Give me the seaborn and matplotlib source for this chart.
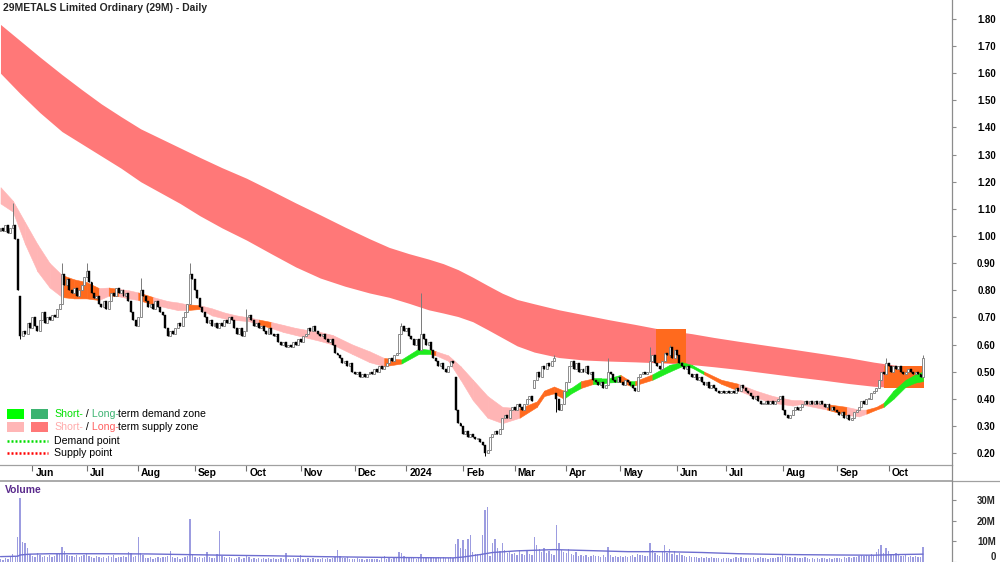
import numpy as np
import pandas as pd
import matplotlib
matplotlib.use("Agg")
import matplotlib.pyplot as plt
import matplotlib.transforms as mtransforms
from matplotlib.lines import Line2D
from matplotlib.patches import Rectangle
import seaborn as sns

sns.set_theme(style="white")
plt.rcParams["font.family"] = ["Liberation Sans", "DejaVu Sans"]

TITLE = "29METALS Limited Ordinary (29M) - Daily"
START_DATE = "2023-05-15"

# ---------------- daily closes ----------------
close = [
    1.03, 1.02, 1.04, 1.01, 1.03, 1.04, 0.99,
    0.80, 0.63,
    0.65, 0.64, 0.68, 0.66, 0.70, 0.67, 0.65, 0.69, 0.72, 0.68, 0.70, 0.69, 0.71, 0.70, 0.73, 0.75,
    0.86,
    0.82, 0.84, 0.80, 0.79, 0.81, 0.78, 0.80, 0.82,
    0.85, 0.87, 0.83,
    0.79, 0.77, 0.78, 0.75, 0.74, 0.76, 0.73,
    0.76, 0.79, 0.78, 0.81, 0.79, 0.80, 0.78, 0.79, 0.76,
    0.72, 0.69, 0.67, 0.70,
    0.80, 0.78,
    0.76, 0.74, 0.75, 0.73, 0.76, 0.74, 0.72, 0.71,
    0.66, 0.63, 0.65, 0.64,
    0.66, 0.68, 0.67, 0.70, 0.72, 0.75,
    0.86, 0.84,
    0.80, 0.77, 0.74, 0.72,
    0.70, 0.68, 0.69, 0.67, 0.68, 0.66, 0.68, 0.67, 0.69, 0.68,
    0.70, 0.69,
    0.66, 0.64, 0.66, 0.63, 0.65,
    0.70, 0.71,
    0.69, 0.67, 0.68, 0.66, 0.67,
    0.65, 0.64, 0.66, 0.64, 0.63, 0.64,
    0.61, 0.60, 0.61, 0.59, 0.60, 0.59, 0.61,
    0.60, 0.62, 0.61, 0.63,
    0.64, 0.66, 0.65, 0.67, 0.65, 0.64,
    0.63, 0.64, 0.62, 0.61, 0.62, 0.60,
    0.57, 0.56, 0.55, 0.53, 0.54, 0.52, 0.53,
    0.50, 0.49, 0.50, 0.48, 0.49, 0.48, 0.49,
    0.50, 0.49, 0.51, 0.50, 0.52, 0.51, 0.52, 0.53,
    0.55, 0.54, 0.56, 0.57,
    0.64, 0.67, 0.65, 0.66, 0.63,
    0.62, 0.60, 0.62, 0.58,
    0.64,
    0.62, 0.60, 0.61, 0.58,
    0.55, 0.54, 0.52, 0.53, 0.51, 0.50,
    0.52, 0.54, 0.53,
    0.36,
    0.31, 0.30,
    0.27, 0.28, 0.26, 0.27, 0.26, 0.25,
    0.25, 0.24, 0.23, 0.20, 0.21,
    0.26, 0.27, 0.28, 0.27, 0.29,
    0.33, 0.34, 0.33,
    0.36, 0.37, 0.36, 0.38, 0.37, 0.36, 0.38,
    0.40, 0.41, 0.39,
    0.47, 0.50, 0.48, 0.52, 0.51, 0.53, 0.52, 0.54, 0.55,
    0.40, 0.36,
    0.38, 0.43, 0.46,
    0.52, 0.54, 0.51, 0.53, 0.50,
    0.51, 0.50, 0.52, 0.49, 0.50,
    0.47, 0.46, 0.45, 0.46, 0.44, 0.45,
    0.50, 0.49,
    0.47, 0.46, 0.48, 0.46, 0.45, 0.47, 0.46, 0.45,
    0.44, 0.43,
    0.48, 0.49, 0.50, 0.49, 0.50,
    0.54, 0.56, 0.53,
    0.52, 0.51,
    0.54, 0.57, 0.56, 0.59, 0.55, 0.58, 0.56,
    0.53, 0.52, 0.51, 0.52,
    0.49, 0.48, 0.49, 0.47, 0.48,
    0.46, 0.45, 0.46, 0.44, 0.45, 0.44,
    0.43, 0.42, 0.43, 0.42, 0.43, 0.42, 0.43, 0.42,
    0.44, 0.43, 0.45, 0.44, 0.43,
    0.42, 0.41, 0.40, 0.41, 0.39, 0.38,
    0.38, 0.39, 0.38, 0.39, 0.38, 0.39,
    0.40, 0.41,
    0.36, 0.34, 0.33, 0.34,
    0.36, 0.37, 0.36, 0.37,
    0.38, 0.39, 0.38,
    0.39, 0.38, 0.39, 0.38, 0.39, 0.38,
    0.37, 0.38, 0.36, 0.37, 0.36, 0.35,
    0.34, 0.35, 0.33, 0.34, 0.32, 0.33,
    0.35, 0.36, 0.37,
    0.39, 0.38, 0.40, 0.40,
    0.42, 0.43, 0.44,
    0.47, 0.50, 0.49, 0.53, 0.52,
    0.50, 0.52, 0.51, 0.52, 0.50,
    0.49, 0.50, 0.51, 0.50, 0.49, 0.50, 0.49, 0.48,
    0.55,
]
first_open = 1.02
gap_open_idx = [8, 185, 217, 226]
gap_open_val = [0.78, 0.48, 0.44, 0.42]
spike_hi_idx = [5, 25, 35, 57, 77, 100, 163, 171, 225, 247, 264, 272, 360, 375]
spike_hi_val = [1.12, 0.90, 0.90, 0.845, 0.90, 0.73, 0.68, 0.79, 0.56, 0.55, 0.59, 0.60, 0.55, 0.56]
spike_lo_idx = [8, 197, 226]
spike_lo_val = [0.62, 0.19, 0.35]

# ---------------- daily volume, millions ----------------
volume_m = [
    1.6, 1.2, 1.9, 1.4, 2.2, 4.0, 2.6,
    12.0, 31.0,
    9.5, 9.0, 7.0, 4.0, 3.0, 2.5, 4.2, 3.6, 2.4, 3.0, 2.6, 3.3, 2.5, 3.0, 3.8, 4.0,
    7.2,
    5.5, 3.5, 2.8, 3.0, 2.2, 3.4, 2.5, 3.1,
    3.6, 4.5, 3.0,
    2.4, 2.0, 2.8, 2.2, 1.8, 2.6, 2.1,
    2.8, 2.4, 3.2, 2.0, 2.6, 2.2, 3.0, 2.5, 4.6,
    4.2, 2.4, 2.8, 12.0,
    4.5, 3.2,
    2.0, 1.8, 2.2, 1.6, 2.0, 2.4, 1.8, 2.2,
    2.6, 3.0, 5.5, 2.4,
    1.8, 2.2, 1.6, 2.0, 2.4, 2.8,
    21.0, 3.5,
    2.6, 2.0, 2.4, 1.8,
    2.2, 5.0, 2.4, 1.8, 2.0, 4.0, 15.0, 3.0, 2.2, 1.8,
    2.6, 2.0,
    1.6, 1.8, 2.2, 1.5, 1.9,
    2.8, 2.2,
    1.6, 1.9, 1.4, 1.8, 1.5,
    1.7, 1.3, 1.8, 1.5, 1.9, 1.6,
    1.4, 1.8, 1.5, 4.5, 1.6, 1.3, 1.7,
    1.5, 1.9, 3.5, 1.6,
    1.4, 1.8, 1.5, 1.7, 1.3, 1.6,
    1.5, 1.8, 1.4, 1.7, 1.5, 1.9,
    2.2, 6.0, 3.0, 2.0, 1.8, 2.4, 1.6,
    1.5, 1.3, 1.7, 1.4, 1.6, 1.2, 1.5,
    1.4, 1.6, 1.3, 1.5, 1.2, 1.7, 3.0, 1.4,
    1.8, 1.5, 2.0, 2.4,
    5.0, 4.2, 3.0, 2.6, 2.2,
    1.8, 2.0, 1.6, 2.2,
    4.0,
    2.4, 2.0, 1.8, 2.2,
    2.6, 2.0, 2.4, 1.8, 2.2, 2.0,
    1.8, 2.4, 2.0,
    8.7,
    11.0, 7.0,
    10.5, 6.5, 11.0, 13.0, 5.0, 4.0,
    4.0, 3.2, 13.0, 25.0, 26.5,
    3.0, 9.0, 11.0, 7.0, 5.5,
    9.0, 6.0, 4.5,
    5.0, 3.8, 4.2, 3.5, 6.0, 4.0, 3.6,
    5.5, 4.0, 3.4,
    12.0, 8.0, 6.5, 5.0, 7.0, 4.5, 5.5, 4.0, 3.6,
    18.0, 9.0,
    6.0, 5.0, 4.5,
    6.5, 4.0, 3.5, 5.0, 3.0,
    3.4, 2.8, 3.2, 2.6, 3.0,
    3.6, 2.8, 3.0, 2.4, 3.2, 2.6,
    7.5, 3.5,
    2.6, 3.0, 2.4, 2.8, 2.2, 3.0, 2.5, 2.8,
    3.4, 2.6,
    4.0, 3.2, 3.6, 2.8, 3.0,
    9.0, 6.0, 4.5,
    3.5, 3.0,
    5.0, 8.0, 4.5, 6.5, 4.0, 5.5, 3.6,
    4.2, 3.4, 3.0, 2.6,
    2.8, 2.4, 2.2, 2.6, 2.0,
    2.4, 2.0, 2.2, 1.8, 2.2, 1.9,
    1.8, 2.0, 1.6, 1.9, 1.7, 2.0, 1.6, 1.8,
    2.2, 1.8, 2.4, 2.0, 1.7,
    2.0, 1.8, 2.2, 1.6, 2.0, 2.4,
    1.8, 2.0, 1.6, 1.9, 1.7, 2.0,
    2.2, 2.6,
    3.4, 3.0, 2.6, 2.2,
    2.0, 2.4, 1.8, 2.0,
    1.8, 2.2, 1.7,
    1.6, 1.9, 1.5, 1.8, 1.6, 1.9,
    1.7, 1.5, 1.8, 1.6, 2.0, 1.7,
    1.9, 1.6, 2.2, 1.8, 2.4, 2.0,
    2.6, 2.2, 3.0,
    3.4, 2.8, 3.6, 3.0,
    4.0, 3.5, 5.0,
    6.5, 8.0, 4.5, 7.0, 5.5,
    4.0, 3.6, 4.4, 3.2, 3.0,
    2.8, 3.4, 2.6, 3.0, 2.4, 2.8, 2.2, 2.6,
    7.5,
]
vol_ma_idx = [0, 7, 8, 12, 20, 40, 60, 75, 90, 110, 130, 150, 170, 184, 188, 195, 200, 210,
              225, 240, 255, 270, 285, 300, 320, 340, 355, 365, 375]
vol_ma_val = [2.6, 2.8, 3.4, 3.8, 4.0, 4.0, 3.9, 3.6, 3.3, 3.0, 2.6, 2.3, 2.1, 2.0, 2.4, 3.6,
              4.6, 5.4, 6.0, 5.5, 5.0, 5.0, 4.6, 4.0, 3.6, 3.4, 3.3, 3.6, 3.8]

# ---------------- long-term supply zone ----------------
lt_idx = [0, 8, 16, 25, 33, 41, 49, 57, 65, 73, 81, 90, 100, 110, 120, 130, 140, 150, 158,
          166, 174, 180, 186, 192, 198, 204, 210, 217, 227, 237, 247, 258, 269, 281, 290, 300,
          312, 324, 335, 345, 355, 365, 375]
lt_hi = [1.78, 1.72, 1.66, 1.595, 1.54, 1.487, 1.44, 1.395, 1.36, 1.325, 1.29, 1.252, 1.213,
         1.168, 1.122, 1.078, 1.033, 0.99, 0.958, 0.935, 0.915, 0.898, 0.876, 0.848, 0.818,
         0.789, 0.766, 0.750, 0.728, 0.710, 0.692, 0.674, 0.655, 0.640, 0.626, 0.612, 0.596,
         0.580, 0.565, 0.551, 0.535, 0.522, 0.515]
lt_lo = [1.60, 1.525, 1.455, 1.385, 1.34, 1.295, 1.25, 1.20, 1.16, 1.12, 1.075, 1.03, 0.985,
         0.935, 0.886, 0.845, 0.815, 0.79, 0.774, 0.752, 0.728, 0.716, 0.703, 0.684, 0.655,
         0.625, 0.595, 0.572, 0.552, 0.543, 0.539, 0.536, 0.532, 0.526, 0.518, 0.508, 0.494,
         0.480, 0.468, 0.456, 0.446, 0.441, 0.445]
# highlighted (price inside long-term zone) boxes
box_x0 = [266.3, 359.0]
box_x1 = [278.5, 375.6]
box_lo = [0.530, 0.440]
box_hi = [0.656, 0.521]

# ---------------- short-term zone (p = supply, o = overlap, g = demand) ----------------
st_idx = [0, 5, 10, 15, 20, 25, 30, 35, 40, 44, 48, 52, 56, 62, 68, 72, 76, 81, 86, 91, 96,
          101, 105, 110, 115, 120, 125, 130, 135, 143, 150, 156, 163, 170, 175, 177, 182, 187,
          192, 198, 204, 211, 218, 221, 225, 229, 232, 236, 241, 244, 247, 252, 256, 258, 265,
          272, 277, 281, 286, 293, 300, 307, 314, 322, 325, 336, 344, 349, 352, 356, 359, 363,
          368, 372, 375]
st_hi = [1.18, 1.13, 1.05, 0.97, 0.90, 0.856, 0.84, 0.83, 0.808, 0.81, 0.805, 0.80, 0.792,
         0.775, 0.76, 0.755, 0.748, 0.745, 0.733, 0.718, 0.707, 0.700, 0.692, 0.683, 0.672,
         0.661, 0.653, 0.646, 0.635, 0.60, 0.575, 0.55, 0.545, 0.585, 0.58, 0.575, 0.56, 0.52,
         0.47, 0.41, 0.37, 0.365, 0.39, 0.43, 0.445, 0.43, 0.44, 0.465, 0.475, 0.475, 0.475,
         0.488, 0.465, 0.465, 0.49, 0.525, 0.535, 0.525, 0.50, 0.47, 0.455, 0.43, 0.41, 0.395,
         0.395, 0.38, 0.37, 0.36, 0.36, 0.37, 0.385, 0.43, 0.47, 0.49, 0.50]
st_lo = [1.12, 1.09, 0.97, 0.87, 0.81, 0.775, 0.77, 0.77, 0.764, 0.78, 0.778, 0.77, 0.764,
         0.748, 0.735, 0.727, 0.727, 0.731, 0.707, 0.696, 0.690, 0.686, 0.674, 0.661, 0.646,
         0.635, 0.624, 0.613, 0.60, 0.565, 0.535, 0.52, 0.53, 0.565, 0.565, 0.56, 0.54, 0.47,
         0.395, 0.33, 0.31, 0.33, 0.37, 0.41, 0.42, 0.40, 0.42, 0.44, 0.455, 0.455, 0.46,
         0.462, 0.448, 0.45, 0.47, 0.50, 0.52, 0.515, 0.49, 0.455, 0.43, 0.405, 0.385, 0.375,
         0.38, 0.36, 0.34, 0.335, 0.345, 0.36, 0.37, 0.40, 0.445, 0.46, 0.465]
st_col = "pppppooopoppoppposppppoppppppppoggoppppppooooggogggogoggggoopppppoppoogggggg"

price_ticks = [0.20, 0.30, 0.40, 0.50, 0.60, 0.70, 0.80, 0.90, 1.00, 1.10, 1.20, 1.30,
               1.40, 1.50, 1.60, 1.70, 1.80]
vol_ticks = [0, 10, 20, 30]
vol_tick_labels = ["0", "10M", "20M", "30M"]

# ---------------- colours ----------------
C_LT = "#FF7878"
C_ST = {"p": "#FFB5B5", "o": "#FF6A1E", "g": "#1EEB1E", "s": "#FFB5B5"}
C_UP = "#7a7a7a"
C_VOL = "#9c9ce0"
C_VMA = "#6e6ed0"
C_AX = "#8c8c8c"

W, H = 1000, 562
fig = plt.figure(figsize=(W / 100, H / 100), dpi=100)
fig.patch.set_facecolor("white")
ax = fig.add_axes([0, 1 - 465 / H, 952 / W, 465 / H])
axv = fig.add_axes([0, 0, 952 / W, 81 / H])

N = len(close)
x = np.arange(N)
c = np.array(close, dtype=float)
o = np.r_[first_open, c[:-1]]
o[gap_open_idx] = gap_open_val
hi = np.maximum(o, c)
lo = np.minimum(o, c)
hi[spike_hi_idx] = np.maximum(hi[spike_hi_idx], spike_hi_val)
lo[spike_lo_idx] = np.minimum(lo[spike_lo_idx], spike_lo_val)

# long-term band
ax.fill_between(lt_idx, lt_lo, lt_hi, color=C_LT, lw=0, zorder=1)
for x0, x1, b0, b1 in zip(box_x0, box_x1, box_lo, box_hi):
    ax.fill_between([x0, x1], [b0, b0], [b1, b1], color=C_ST["o"], lw=0, zorder=1.5)

# short-term band
for k in range(len(st_idx) - 1):
    col = C_ST[st_col[k]]
    ax.fill_between(st_idx[k:k + 2], st_lo[k:k + 2], st_hi[k:k + 2], color=col,
                    lw=0.4, edgecolor=col, zorder=2)

# candles
up = c >= o
bot = np.minimum(o, c)
hgt = np.maximum(np.abs(c - o), 0.004)
ax.vlines(x[up], lo[up], hi[up], color=C_UP, lw=0.7, zorder=3)
ax.vlines(x[~up], lo[~up], hi[~up], color="black", lw=0.7, zorder=3)
ax.bar(x[up], hgt[up], bottom=bot[up], width=0.8, color="white", edgecolor=C_UP,
       lw=0.6, zorder=4)
ax.bar(x[~up], hgt[~up], bottom=bot[~up], width=0.8, color="black", edgecolor="black",
       lw=0.3, zorder=4)

XL = (-0.2, 386.8)
ax.set_xlim(*XL)
ax.set_ylim(0.1558, 1.870)
for s in ["top", "left"]:
    ax.spines[s].set_visible(False)
ax.spines["right"].set_color(C_AX)
ax.spines["bottom"].set_color("#a0a0a0")
ax.spines["right"].set_linewidth(0.9)
ax.spines["bottom"].set_linewidth(0.9)
ax.yaxis.tick_right()
ax.set_yticks(price_ticks)
ax.set_yticklabels([f"{v:.2f}" for v in price_ticks], fontsize=6.9, fontweight="bold")
for lab in ax.get_yticklabels():
    lab.set_horizontalalignment("right")
ax.tick_params(axis="y", direction="out", length=3, width=0.8, color=C_AX, pad=28.5,
               labelcolor="black")

dates = pd.bdate_range(START_DATE, periods=N)
per = dates.to_period("M")
month_pos = [i for i in range(1, N) if per[i] != per[i - 1]]
month_lab = [str(dates[i].year) if dates[i].month == 1 else dates[i].strftime("%b")
             for i in month_pos]
ax.set_xticks(month_pos)
ax.set_xticklabels([])
ax.tick_params(axis="x", direction="out", length=4, width=0.8, color="#707070", bottom=True)
trans = mtransforms.blended_transform_factory(ax.transData, ax.transAxes)
for p, lab in zip(month_pos, month_lab):
    ax.text(p + 1.2, -0.0175, lab, transform=trans, ha="left", va="center", fontsize=7.4,
            fontweight="bold", color="black", clip_on=False)
ax.grid(False)

# volume panel
axv.bar(x, volume_m, width=0.55, color=C_VOL, lw=0, zorder=2)
sns.lineplot(x=vol_ma_idx, y=vol_ma_val, ax=axv, color=C_VMA, lw=1.0, zorder=3)
axv.set_xlim(*XL)
axv.set_ylim(0, 39.2)
for s in ["bottom", "left"]:
    axv.spines[s].set_visible(False)
axv.spines["top"].set_color("#a0a0a0")
axv.spines["right"].set_color(C_AX)
axv.spines["right"].set_linewidth(0.9)
axv.yaxis.tick_right()
axv.set_yticks(vol_ticks)
axv.set_yticklabels(vol_tick_labels, fontsize=6.9, fontweight="bold")
for lab in axv.get_yticklabels():
    lab.set_horizontalalignment("right")
axv.get_yticklabels()[0].set_verticalalignment("bottom")
axv.tick_params(axis="y", direction="out", length=3, width=0.8, color=C_AX, pad=28.5)
axv.set_xticks([])
axv.set_xlabel("")
axv.set_ylabel("")
axv.grid(False)
axv.text(2, 0.89, "Volume", transform=mtransforms.blended_transform_factory(
    axv.transData, axv.transAxes), fontsize=7.4, fontweight="bold", color="#5a2a8c",
    ha="left", va="center")

# separator lines
fig.add_artist(Line2D([952 / W, 1], [81 / H, 81 / H], color="#a0a0a0", lw=0.9))
fig.add_artist(Line2D([952 / W, 952 / W], [81 / H, 97 / H], color=C_AX, lw=0.9))

# title
fig.text(3 / W, 1 - 8 / H, TITLE, fontsize=7.5, fontweight="bold", va="center", ha="left")

# legend
def fx(px):
    return px / W


def fy(py):
    return 1 - py / H


def sq(x0, y0, w, h, col):
    fig.add_artist(Rectangle((fx(x0), fy(y0 + h)), w / W, h / H, transform=fig.transFigure,
                             color=col, lw=0))


sq(7, 409, 17, 10, "#00FF00")
sq(31, 409, 17, 10, "#3CB371")
sq(7, 422, 17, 10, "#FFB6B6")
sq(31, 422, 17, 10, "#FF7777")
fig.add_artist(Line2D([fx(7), fx(48)], [fy(441), fy(441)], color="#00DD00", lw=1.8,
                      ls=(0, (0.8, 0.8))))
fig.add_artist(Line2D([fx(7), fx(48)], [fy(453), fy(453)], color="#FF0000", lw=1.8,
                      ls=(0, (0.8, 0.8))))

renderer = fig.canvas.get_renderer()


def multi_text(x0, yc, parts, size=7.6):
    xp = x0
    for s, col in parts:
        t = fig.text(fx(xp), fy(yc), s, color=col, fontsize=size, ha="left", va="center")
        bb = t.get_window_extent(renderer=renderer)
        xp += bb.width


multi_text(54, 414, [("Short-", "#00E000"), (" /", "black"), (" Long-", "#3CB371"),
                     ("term demand zone", "black")])
multi_text(54, 427, [("Short-", "#FFAAAA"), (" /", "black"), (" Long-", "#FF5F5F"),
                     ("term supply zone", "black")])
multi_text(54, 441, [("Demand point", "black")])
multi_text(54, 453, [("Supply point", "black")])

fig.savefig("out.png", dpi=100, facecolor="white")
